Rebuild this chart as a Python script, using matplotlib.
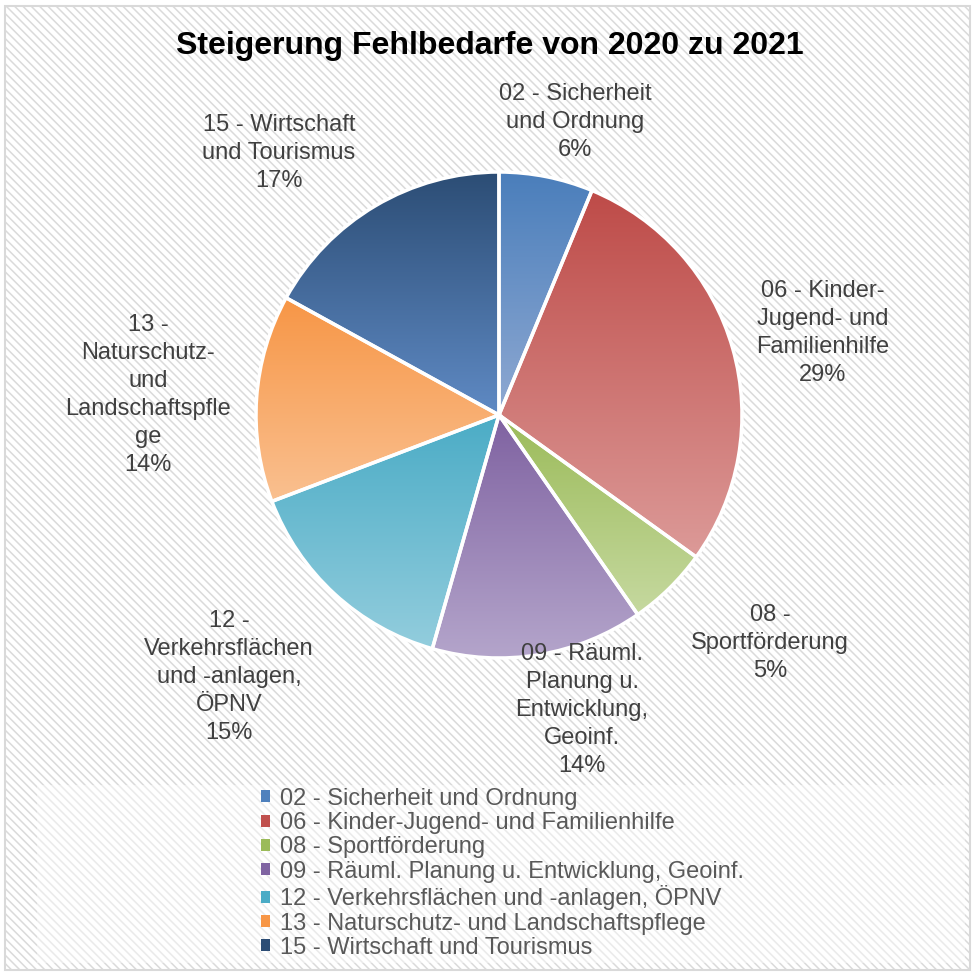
import numpy as np
import matplotlib
matplotlib.use("Agg")
import matplotlib.pyplot as plt
from matplotlib.patches import Rectangle, Patch
from matplotlib.colors import to_rgb

plt.rcParams['font.family'] = ['Liberation Sans', 'DejaVu Sans']
plt.rcParams['hatch.color'] = '#DADADA'
plt.rcParams['hatch.linewidth'] = 1.1

title = "Steigerung Fehlbedarfe von 2020 zu 2021"
categories = [
    "02 - Sicherheit und Ordnung",
    "06 - Kinder-Jugend- und Familienhilfe",
    "08 - Sportförderung",
    "09 - Räuml. Planung u. Entwicklung, Geoinf.",
    "12 - Verkehrsflächen und -anlagen, ÖPNV",
    "13 - Naturschutz- und Landschaftspflege",
    "15 - Wirtschaft und Tourismus",
]
slice_labels = [
    "02 - Sicherheit\nund Ordnung",
    "06 - Kinder-\nJugend- und\nFamilienhilfe",
    "08 -\nSportförderung",
    "09 - Räuml.\nPlanung u.\nEntwicklung,\nGeoinf.",
    "12 -\nVerkehrsflächen\nund -anlagen,\nÖPNV",
    "13 -\nNaturschutz-\nund\nLandschaftspfle\nge",
    "15 - Wirtschaft\nund Tourismus",
]
values = [6.25, 28.7, 5.4, 14.1, 14.8, 13.8, 17.0]

base_colors = ['#4F81BD', '#C0504D', '#9BBB59', '#8064A2', '#4BACC6', '#F79646', '#2C4D75']
top_colors = ['#4A7EBB', '#BE4B48', '#9BBB59', '#7F62A1', '#4BACC6', '#F79646', '#2C4D75']
bottom_colors = ['#8FA9D2', '#DC9A98', '#C6D9A0', '#B4A5CB', '#93CDDD', '#FAC090', '#5F8AC4']
label_pos = [(0.313, 1.206), (1.333, 0.337), (1.115, -0.938), (0.342, -1.214),
             (-1.111, -1.078), (-1.444, 0.082), (-0.905, 1.078)]

W = H = 975
fig = plt.figure(figsize=(9.75, 9.75), dpi=100)
fig.patch.set_facecolor('white')

# hatched chart background
bg = Rectangle((5 / W, 5 / H), 965 / W, 964 / H, transform=fig.transFigure,
               facecolor='white', edgecolor='#DADADA', hatch='\\\\\\\\', linewidth=0, zorder=0)
fig.add_artist(bg)
border = Rectangle((5 / W, 5 / H), 965 / W, 964 / H, transform=fig.transFigure,
                   facecolor='none', edgecolor='#D9D9D9', linewidth=1.5, zorder=0.5)
fig.add_artist(border)

ax = fig.add_axes([0, 0, 1, 1])
ax.set_facecolor('none')
ax.axis('off')

cx, cy, R = 499, 415, 243
xlim = ((0 - cx) / R, (W - cx) / R)
ylim = ((cy - H) / R, (cy - 0) / R)

wedges, _ = ax.pie(values, startangle=90, counterclock=False, radius=1, center=(0, 0),
                   wedgeprops=dict(edgecolor='white', linewidth=2.5))

for w, tc, bc in zip(wedges, top_colors, bottom_colors):
    ext = w.get_path().get_extents()
    t = np.linspace(0, 1, 256)[:, None]
    c0 = np.array(to_rgb(tc)); c1 = np.array(to_rgb(bc))
    grad = (c0[None, None, :] * (1 - t[:, :, None]) + c1[None, None, :] * t[:, :, None])
    grad = np.repeat(grad, 2, axis=1)
    im = ax.imshow(grad, extent=[ext.x0, ext.x1, ext.y0, ext.y1], origin='upper',
                   aspect='auto', zorder=1, interpolation='bilinear')
    im.set_clip_path(w)
    w.set_facecolor('none')
    w.set_zorder(2)

ax.set_xlim(*xlim)
ax.set_ylim(*ylim)
ax.set_aspect('auto')

for lab, v, (lx, ly) in zip(slice_labels, values, label_pos):
    ax.text(lx, ly, f"{lab}\n{round(v):d}%", ha='center', va='center', fontsize=17,
            color='#404040', linespacing=1.35, zorder=3)

fig.text(490 / W, 1 - 46 / H, title, ha='center', va='center', fontsize=23,
         fontweight='bold', color='black')

# legend area
leg_bg = Rectangle((37 / W, 1 - 963 / H), 928 / W, 178 / H, transform=fig.transFigure,
                   facecolor='white', alpha=0.45, edgecolor='none', zorder=1)
fig.add_artist(leg_bg)
handles = [Patch(facecolor=c, edgecolor='none') for c in base_colors]
leg = fig.legend(handles, categories, loc='upper left', bbox_to_anchor=(256 / W, 1 - 783 / H),
                 frameon=False, fontsize=17, handlelength=0.4, handleheight=0.4,
                 handletextpad=0.4, labelspacing=0.1, borderaxespad=0, borderpad=0.2)
for t in leg.get_texts():
    t.set_color('#595959')

fig.savefig('out.png', dpi=100)
